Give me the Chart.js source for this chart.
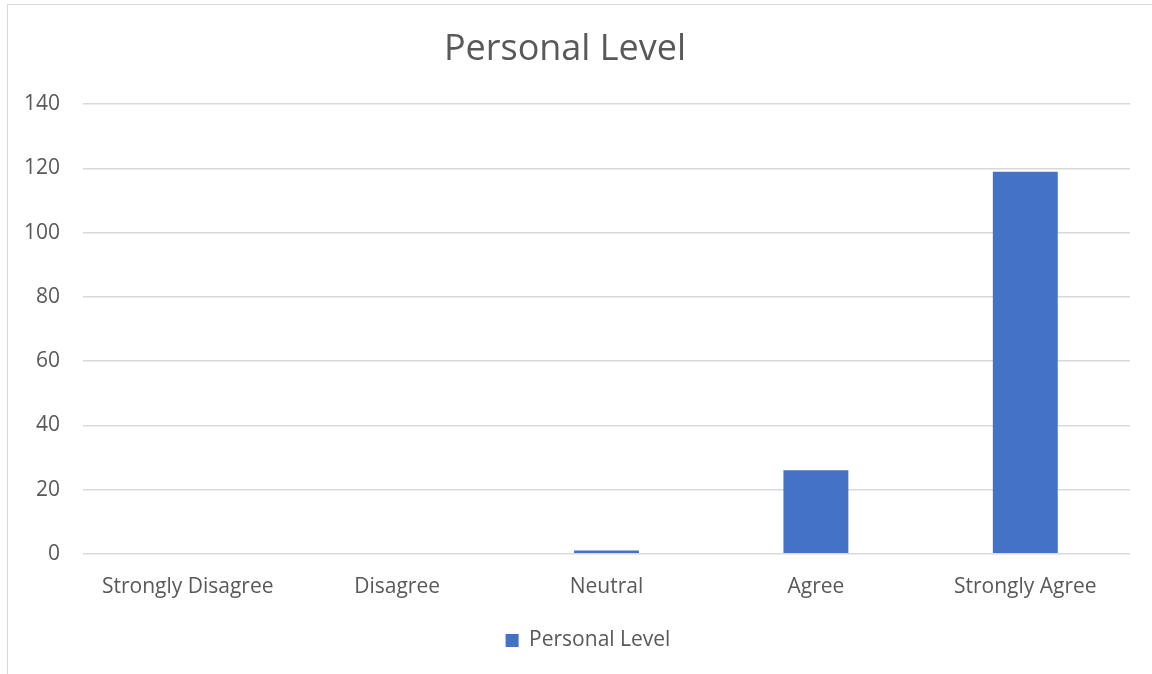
<!DOCTYPE html>
<html>
<head>
<meta charset="utf-8">
<script src="https://cdn.jsdelivr.net/npm/chart.js@4/dist/chart.umd.min.js"></script>
<style>
  html, body { margin: 0; padding: 0; background: #fff; overflow: hidden; }
  #frame { position: absolute; left: 7px; top: 4px; width: 1200px; height: 720px; border: 1px solid #d9d9d9; }
  #wrap { position: absolute; left: 0; top: 0; width: 1152px; height: 674px; }
</style>
</head>
<body>
<div id="frame"></div>
<div id="wrap"><canvas id="chart"></canvas></div>
<script>
// data
const categories = ['Strongly Disagree', 'Disagree', 'Neutral', 'Agree', 'Strongly Agree'];
const personalLevel = [0, 0, 1, 26, 119];
const yTicks = [0, 20, 40, 60, 80, 100, 120, 140];

const txt = '#595959';
const font = '"Open Sans", Lato, sans-serif';

// legend sits a little right of canvas centre in the original
const legendShift = {
  id: 'legendShift',
  afterLayout(chart) {
    if (chart.legend) { chart.legend.left += 23; chart.legend.right += 23; }
  }
};

new Chart(document.getElementById('chart'), {
  type: 'bar',
  data: {
    labels: categories,
    datasets: [{
      label: 'Personal Level',
      data: personalLevel,
      backgroundColor: '#4472C4',
      borderWidth: 0,
      barPercentage: 0.31,
      categoryPercentage: 1
    }]
  },
  options: {
    responsive: true,
    maintainAspectRatio: false,
    animation: false,
    layout: { padding: { left: 0, right: 22, top: 0, bottom: 13 } },
    scales: {
      x: {
        grid: { display: false, drawTicks: false },
        border: { display: false },
        ticks: { color: txt, font: { family: font, size: 21 }, padding: 21, maxRotation: 0 }
      },
      y: {
        min: 0,
        max: 140,
        afterBuildTicks: (s) => { s.ticks = yTicks.map(v => ({ value: v })); },
        afterFit: (s) => { s.width = 83; },
        grid: { color: '#d9d9d9', lineWidth: 1.5, drawTicks: false },
        border: { display: false },
        ticks: { color: txt, font: { family: font, size: 21 }, padding: 23 }
      }
    },
    plugins: {
      title: {
        display: true,
        text: 'Personal Level',
        color: txt,
        font: { family: font, size: 36, weight: 'normal' },
        padding: { top: 28, bottom: 33 }
      },
      legend: {
        position: 'bottom',
        labels: { color: txt, font: { family: font, size: 21 }, boxWidth: 13, boxHeight: 13, padding: 9 }
      },
      tooltip: { enabled: false }
    }
  },
  plugins: [legendShift]
});
</script>
</body>
</html>
